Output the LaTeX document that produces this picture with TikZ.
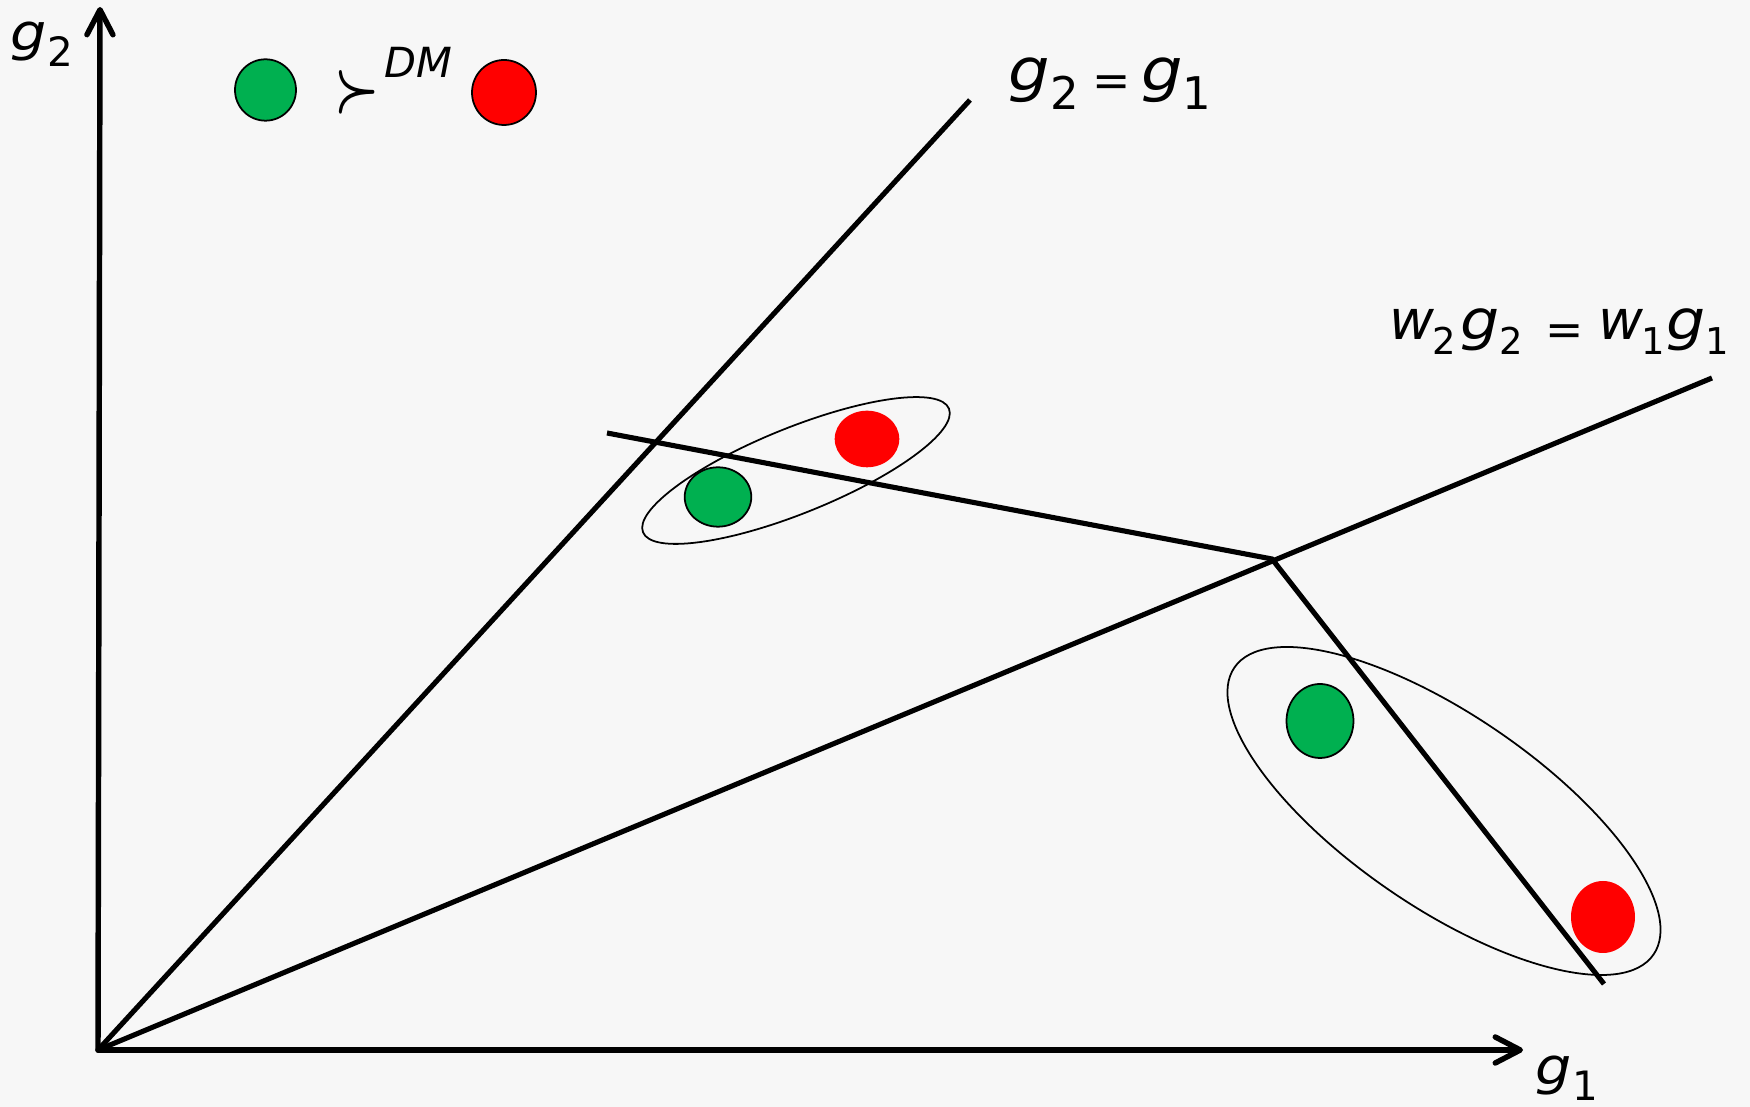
\documentclass[tikz,border=0pt]{standalone}
\usepackage{fontspec}
\setmainfont{DejaVu Sans}[ItalicFont={DejaVu Sans Oblique}]
\usetikzlibrary{arrows.meta}
\definecolor{bg}{HTML}{F7F7F7}
\definecolor{dmgreen}{HTML}{00B050}
\definecolor{dmred}{HTML}{FF0000}
\newcommand\fsz[1]{\fontsize{#1}{#1}\selectfont}
\newcommand\wg{\scalebox{1.12}[1]{g}}
\tikzset{
  axisline/.style={line width=1.55pt, line cap=round, -{Straight Barb[length=0.25cm,width=0.26cm,line cap=round,line join=round]}},
  thickline/.style={line width=1.45pt},
  groupring/.style={line width=0.5pt},
  gdot/.style={fill=dmgreen, draw=black, line width=0.5pt},
  rdot/.style={fill=dmred},
  rdotline/.style={fill=dmred, draw=black, line width=0.5pt},
  lbl/.style={inner sep=0pt, anchor=base west}
}
\begin{document}
\begin{tikzpicture}[x=0.01cm,y=-0.01cm]
\useasboundingbox (0,0) rectangle (1750,1107);
\fill[bg] (0,0) rectangle (1750,1107);
% key points
\coordinate (O) at (98,1050);
\coordinate (Y) at (100,7);
\coordinate (X) at (1523,1050);
\coordinate (A) at (970,100);
\coordinate (B) at (1712,378);
\coordinate (P1) at (607,433);
\coordinate (P2) at (1272,559);
\coordinate (P3) at (1604,984);
% lines
\draw[thickline] (O) -- (A);
\draw[thickline] (O) -- (B);
\draw[thickline] (P1) -- (P2) -- (P3);
\draw[axisline] (O) -- (Y);
\draw[axisline] (O) -- (X);
% grouping ellipses
\draw[groupring, rotate around={22:(796,470.5)}] (796,470.5) ellipse [x radius=165, y radius=42.7];
\draw[groupring, rotate around={-34.4:(1444,811)}] (1444,811) ellipse [x radius=254, y radius=96.2];
% dots
\filldraw[gdot] (718,497) ellipse [x radius=33.3, y radius=29.7];
\fill[rdot] (867,439) ellipse [x radius=32.3, y radius=28.3];
\filldraw[gdot] (1320,721) ellipse [x radius=33.5, y radius=37];
\fill[rdot] (1603,917) ellipse [x radius=32, y radius=36];
% legend
\filldraw[gdot] (265.5,90) ellipse [x radius=30.5, y radius=30.7];
\filldraw[rdotline] (504,92.5) ellipse [x radius=32, y radius=32.5];
\node[inner sep=0pt] (succ) at (357.5,92) {\fsz{15.5pt}\scalebox{1}[1.28]{\boldmath$\succ$}};
\node[lbl] (dm) at (384,78) {\fsz{11.8pt}\itshape DM};
% axis labels
\node[lbl] (g2lab) at (10,51) {\fsz{14.5pt}\itshape\wg\kern0.2pt\raisebox{-4.5pt}{\fsz{11.5pt}\upshape 2}};
\node[lbl] (g1lab) at (1535,1085) {\fsz{14.5pt}\itshape\wg\kern0.2pt\raisebox{-4.5pt}{\fsz{11.5pt}\upshape 1}};
% line labels
\node[lbl] (eqA) at (1008,91) {\fsz{16.6pt}\itshape\wg\raisebox{-5.4pt}{\fsz{12.8pt}\upshape 2}\hspace{3.8pt}\raisebox{-1.5pt}{\fsz{13pt}\upshape =}\hspace{3pt}\wg\raisebox{-5.4pt}{\fsz{12.8pt}\upshape 1}};
\node[lbl] (eqB) at (1389,340) {\fsz{15.65pt}\itshape w\kern-0.6pt\raisebox{-4pt}{\fsz{10.5pt}\upshape 2}\hspace{1.2pt}\wg\raisebox{-4pt}{\fsz{10.5pt}\upshape 2}\hspace{6.5pt}\raisebox{-1.5pt}{\fsz{13pt}\upshape =}\hspace{4pt}w\kern-0.6pt\raisebox{-4pt}{\fsz{10.5pt}\upshape 1}\hspace{0.6pt}\wg\raisebox{-4pt}{\fsz{10.5pt}\upshape 1}};
\end{tikzpicture}
\end{document}
